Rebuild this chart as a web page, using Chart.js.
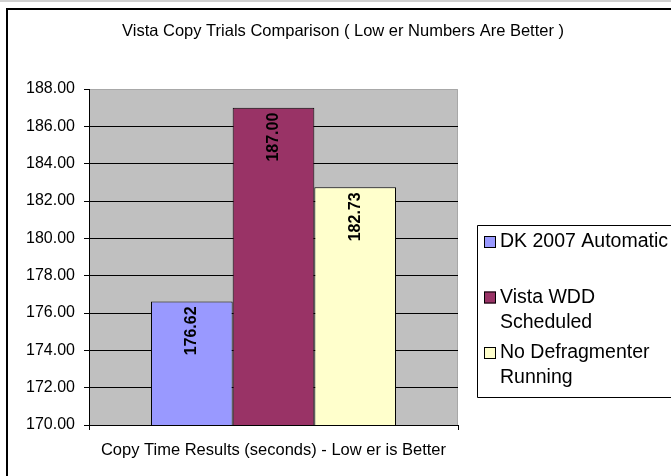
<!DOCTYPE html>
<html><head><meta charset="utf-8">
<script src="https://cdn.jsdelivr.net/npm/chart.js@4"></script>
<style>
html,body{margin:0;padding:0;background:#fff;overflow:hidden;}
canvas{display:block;}
</style></head><body>
<canvas id="c" width="671" height="476"></canvas>
<script>
const chartTitle = "Vista Copy Trials Comparison ( Low er Numbers Are Better )";
const categories = ["Copy Time Results (seconds) - Low er is Better"];
const seriesNames = ["DK 2007 Automatic", "Vista WDD Scheduled", "No Defragmenter Running"];
const legendLines = [["DK 2007 Automatic", ""], ["Vista WDD", "Scheduled"], ["No Defragmenter", "Running"]];
const dk2007Values = [176.62];
const vistaWddValues = [187.00];
const noDefragValues = [182.73];
const seriesColors = ["#9999FF", "#993366", "#FFFFCC"];
const yMin = 170, yMax = 188, yStep = 2;

const FONT = "'Liberation Sans', Arial, sans-serif";
const seriesValues = [dk2007Values, vistaWddValues, noDefragValues];

const bgPlugin = {
  id: 'bg',
  beforeDraw(chart) {
    const ctx = chart.ctx, a = chart.chartArea;
    ctx.save();
    ctx.fillStyle = '#fff';
    ctx.fillRect(0, 0, chart.width, chart.height);
    ctx.fillStyle = '#d0d0d0';
    ctx.fillRect(0, 0, chart.width, 2);
    ctx.strokeStyle = '#000';
    ctx.lineWidth = 2;
    ctx.beginPath();
    ctx.moveTo(7, chart.height + 5);
    ctx.lineTo(7, 9);
    ctx.lineTo(chart.width + 5, 9);
    ctx.stroke();
    ctx.fillStyle = '#C0C0C0';
    ctx.fillRect(a.left, a.top, a.right - a.left, a.bottom - a.top);
    ctx.strokeStyle = '#a8a8a8';
    ctx.lineWidth = 1;
    ctx.beginPath();
    ctx.moveTo(a.left, a.top + 0.5);
    ctx.lineTo(a.right - 0.5, a.top + 0.5);
    ctx.lineTo(a.right - 0.5, a.bottom);
    ctx.stroke();
    ctx.restore();
  }
};

const titlePlugin = {
  id: 'ttl',
  afterDraw(chart) {
    const ctx = chart.ctx;
    ctx.save();
    ctx.fillStyle = '#000';
    ctx.font = '16.5px ' + FONT;
    ctx.textAlign = 'center';
    ctx.textBaseline = 'middle';
    ctx.fillText(chartTitle, 343, 31);
    ctx.restore();
  }
};

const valueLabelPlugin = {
  id: 'vals',
  afterDatasetsDraw(chart) {
    const ctx = chart.ctx;
    ctx.save();
    ctx.fillStyle = '#000';
    ctx.font = 'bold 16px ' + FONT;
    ctx.textAlign = 'right';
    ctx.textBaseline = 'middle';
    chart.data.datasets.forEach((ds, i) => {
      const meta = chart.getDatasetMeta(i);
      meta.data.forEach((el, j) => {
        ctx.save();
        ctx.translate(el.x, el.y + 5);
        ctx.rotate(-Math.PI / 2);
        ctx.fillText(Number(ds.data[j]).toFixed(2), 0, 0);
        ctx.restore();
      });
    });
    ctx.restore();
  }
};

const legendPlugin = {
  id: 'lg',
  afterDraw(chart) {
    const ctx = chart.ctx;
    const left = 477, top = 225, bottom = 397;
    ctx.save();
    ctx.fillStyle = '#fff';
    ctx.fillRect(left, top, chart.width - left + 5, bottom - top);
    ctx.strokeStyle = '#000';
    ctx.lineWidth = 1;
    ctx.beginPath();
    ctx.moveTo(chart.width + 5, top + 0.5);
    ctx.lineTo(left + 0.5, top + 0.5);
    ctx.lineTo(left + 0.5, bottom + 0.5);
    ctx.lineTo(chart.width + 5, bottom + 0.5);
    ctx.stroke();
    ctx.font = '19.5px ' + FONT;
    ctx.textBaseline = 'middle';
    ctx.textAlign = 'left';
    const lineH = 25, itemH = 55.5;
    chart.data.datasets.forEach((ds, i) => {
      const y0 = 242 + i * itemH;
      ctx.fillStyle = ds.backgroundColor;
      ctx.fillRect(484, y0 - 6, 12, 12);
      ctx.strokeStyle = '#000';
      ctx.strokeRect(484.5, y0 - 5.5, 11, 11);
      ctx.fillStyle = '#000';
      legendLines[i].forEach((t, k) => ctx.fillText(t, 500, y0 + k * lineH));
    });
    ctx.restore();
  }
};

new Chart(document.getElementById('c'), {
  type: 'bar',
  data: {
    labels: categories,
    datasets: seriesNames.map((name, i) => ({
      label: name,
      data: seriesValues[i],
      backgroundColor: seriesColors[i],
      borderColor: '#000',
      borderWidth: 1,
      borderSkipped: false,
      categoryPercentage: 0.664,
      barPercentage: 1.0
    }))
  },
  options: {
    responsive: false,
    animation: false,
    events: [],
    layout: { padding: { left: 0, right: 213, top: 89, bottom: 0 } },
    plugins: { legend: { display: false }, title: { display: false }, tooltip: { enabled: false } },
    scales: {
      x: {
        offset: true,
        grid: { display: true, offset: true, drawOnChartArea: false, color: '#000', tickLength: 5 },
        border: { display: true, color: '#000', width: 1 },
        ticks: { color: '#000', font: { family: FONT, size: 16.5 }, padding: 11, maxRotation: 0 },
        afterFit(s) { s.height = 51; }
      },
      y: {
        min: yMin, max: yMax,
        grid: {
          color: c => (c.tick && c.tick.value === yMax) ? 'rgba(0,0,0,0)' : '#000',
          tickColor: '#000', tickLength: 5, lineWidth: 1
        },
        border: { display: true, color: '#000', width: 1 },
        ticks: { stepSize: yStep, color: '#000', font: { family: FONT, size: 16 }, padding: 9,
                 callback: v => Number(v).toFixed(2) },
        afterFit(s) { s.width = 89; }
      }
    }
  },
  plugins: [bgPlugin, titlePlugin, valueLabelPlugin, legendPlugin]
});
</script>
</body></html>
